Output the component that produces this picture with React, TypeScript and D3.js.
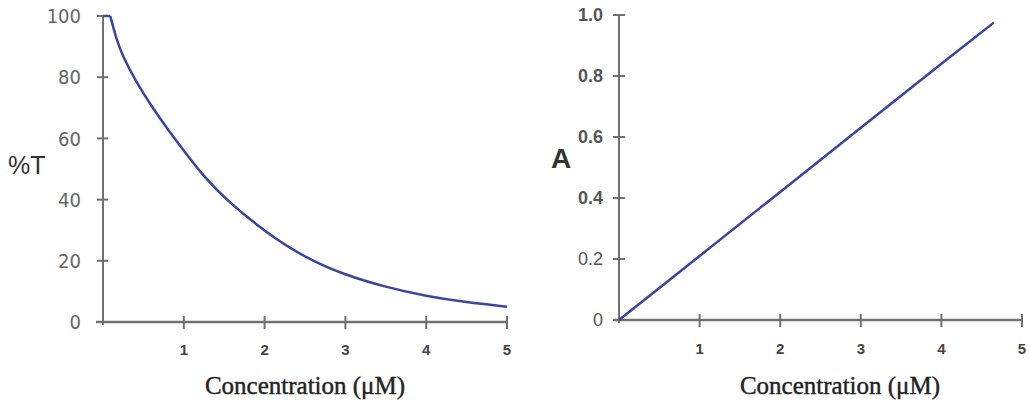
import React from "react";
import * as d3 from "d3";

// Left panel: %T vs concentration
const flatConc = [0, 0.09];
const flatT = [100, 100];
const concT = [0.09, 0.17, 0.25, 0.4, 0.6, 0.8, 1, 1.25, 1.5, 2, 2.5, 3, 3.5, 4, 4.5, 5];
const percentT = [100, 92, 86.5, 79, 70.5, 63, 56, 47.5, 40.5, 29.5, 21, 15.3, 11.4, 8.4, 6.4, 5.0];
const tTicks = [0, 20, 40, 60, 80, 100];

// Right panel: absorbance vs concentration
const concA = [0, 1, 2, 3, 4, 4.65];
const absorb = [0, 0.21, 0.42, 0.63, 0.84, 0.975];
const aTicks = [0, 0.2, 0.4, 0.6, 0.8, 1.0];
const aTickLabels = ["0", "0.2", "0.4", "0.6", "0.8", "1.0"];

const xTicks = [1, 2, 3, 4, 5];
const xTitle = "Concentration (μM)";

const W = 1029;
const H = 403;
const axisColor = "#707070";
const lineColor = "#3a45a0";
const sans = "'Liberation Sans', Arial, sans-serif";
const cond = "'DejaVu Sans Condensed', 'DejaVu Sans', sans-serif";
const serif = "'Liberation Serif', 'Times New Roman', serif";

export default function App() {
  const xL = d3.scaleLinear().domain([0, 5]).range([103, 507]);
  const yL = d3.scaleLinear().domain([0, 100]).range([322, 16]);
  const xR = d3.scaleLinear().domain([0, 5]).range([619, 1022]);
  const yR = d3.scaleLinear().domain([0, 1]).range([320, 15]);

  const flatL = d3
    .line<number>()
    .x((_, i) => xL(flatConc[i]))
    .y((d) => yL(d));
  const lineL = d3
    .line<number>()
    .x((_, i) => xL(concT[i]))
    .y((d) => yL(d))
    .curve(d3.curveBasis);
  const lineR = d3
    .line<number>()
    .x((_, i) => xR(concA[i]))
    .y((d) => yR(d));

  return (
    <div style={{ position: "absolute", left: 0, top: 0, width: W, height: H, background: "#fff" }}>
      <svg width={W} height={H} style={{ display: "block" }}>
        <rect width={W} height={H} fill="#fff" />
        {/* ---------- LEFT PANEL ---------- */}
        <g>
          <line x1={xL(0)} x2={xL(0)} y1={yL(0) + 3} y2={yL(100)} stroke={axisColor} strokeWidth={2} />
          {tTicks.map((t) => (
            <g key={"tl" + t}>
              <line x1={xL(0) - 6} x2={xL(0) + 5} y1={yL(t)} y2={yL(t)} stroke={axisColor} strokeWidth={2} />
              <text
                x={xL(0) - 22}
                y={yL(t)}
                dy="0.36em"
                textAnchor="end"
                fontFamily={cond}
                fontSize={20}
                fill="#666"
              >
                {t}
              </text>
            </g>
          ))}
          <line x1={xL(0) - 7} x2={xL(5)} y1={yL(0)} y2={yL(0)} stroke={axisColor} strokeWidth={2.5} />
          {xTicks.map((t) => (
            <g key={"xl" + t}>
              <line x1={xL(t)} x2={xL(t)} y1={yL(0) - 6} y2={yL(0) + 7} stroke={axisColor} strokeWidth={2} />
              <text
                x={xL(t)}
                y={yL(0) + 33}
                textAnchor="middle"
                fontFamily={sans}
                fontSize={15}
                fontWeight="bold"
                fill="#444"
              >
                {t}
              </text>
            </g>
          ))}
          <path d={flatL(flatT) || ""} fill="none" stroke={lineColor} strokeWidth={2.5} />
          <path d={lineL(percentT) || ""} fill="none" stroke={lineColor} strokeWidth={2.5} strokeLinejoin="round" />
          <text x={8} y={174} fontFamily={sans} fontSize={25} fill="#333">
            %T
          </text>
          <text x={305} y={394} textAnchor="middle" fontFamily={serif} fontSize={25} fill="#222" stroke="#222" strokeWidth={0.4}>
            {xTitle}
          </text>
        </g>

        {/* ---------- RIGHT PANEL ---------- */}
        <g>
          <line x1={xR(0)} x2={xR(0)} y1={yR(0) + 3} y2={yR(1)} stroke={axisColor} strokeWidth={2} />
          {aTicks.map((t, i) => (
            <g key={"ta" + t}>
              <line x1={xR(0) - 6} x2={xR(0) + 6} y1={yR(t)} y2={yR(t)} stroke={axisColor} strokeWidth={2} />
              <text
                x={xR(0) - 16}
                y={yR(t)}
                dy="0.36em"
                textAnchor="end"
                fontFamily={sans}
                fontSize={18}
                fontWeight={i >= 2 ? "bold" : "normal"}
                fill="#555"
              >
                {aTickLabels[i]}
              </text>
            </g>
          ))}
          <line x1={xR(0) - 5} x2={xR(5)} y1={yR(0)} y2={yR(0)} stroke={axisColor} strokeWidth={2.5} />
          {xTicks.map((t) => (
            <g key={"xr" + t}>
              <line x1={xR(t)} x2={xR(t)} y1={yR(0) - 6} y2={yR(0) + 7} stroke={axisColor} strokeWidth={2} />
              <text
                x={xR(t)}
                y={yR(0) + 34}
                textAnchor="middle"
                fontFamily={sans}
                fontSize={15}
                fontWeight="bold"
                fill="#444"
              >
                {t}
              </text>
            </g>
          ))}
          <path d={lineR(absorb) || ""} fill="none" stroke={lineColor} strokeWidth={2.5} />
          <text x={551} y={168} fontFamily={sans} fontSize={28} fontWeight="bold" fill="#333">
            A
          </text>
          <text x={840} y={394} textAnchor="middle" fontFamily={serif} fontSize={25} fill="#222" stroke="#222" strokeWidth={0.4}>
            {xTitle}
          </text>
        </g>
      </svg>
    </div>
  );
}
